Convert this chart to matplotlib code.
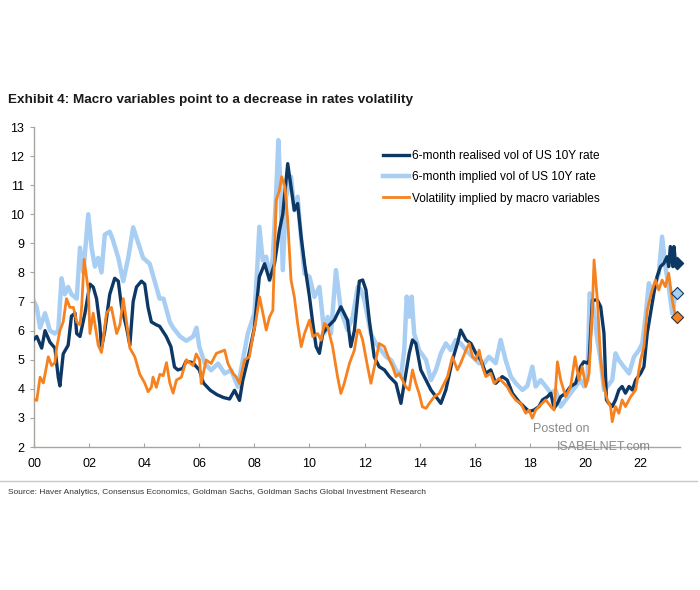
import matplotlib
matplotlib.use("Agg")
import matplotlib.pyplot as plt
from matplotlib.lines import Line2D

# 6-month realised vol of US 10Y rate
real_x = [2000.0, 2000.1, 2000.28, 2000.4, 2000.58, 2000.76, 2000.88, 2000.94, 2001.06, 2001.24,
          2001.36, 2001.49, 2001.55, 2001.67, 2001.85, 2002.03, 2002.15, 2002.27, 2002.39, 2002.45,
          2002.57, 2002.75, 2002.93, 2003.06, 2003.18, 2003.36, 2003.48, 2003.6, 2003.72, 2003.9,
          2004.02, 2004.14, 2004.26, 2004.44, 2004.56, 2004.8, 2004.97, 2005.1, 2005.22, 2005.4,
          2005.52, 2005.76, 2006.0, 2006.15, 2006.4, 2006.64, 2006.88, 2007.1, 2007.28, 2007.46,
          2007.58, 2007.76, 2008.0, 2008.18, 2008.37, 2008.55, 2008.73, 2008.91, 2009.03, 2009.21,
          2009.33, 2009.45, 2009.57, 2009.7, 2009.82, 2010.0, 2010.12, 2010.24, 2010.36, 2010.48,
          2010.66, 2010.9, 2011.14, 2011.38, 2011.5, 2011.63, 2011.81, 2011.93, 2012.05, 2012.17,
          2012.35, 2012.53, 2012.72, 2012.9, 2013.14, 2013.32, 2013.44, 2013.62, 2013.74, 2013.86,
          2014.04, 2014.23, 2014.41, 2014.59, 2014.77, 2014.95, 2015.19, 2015.37, 2015.49, 2015.68,
          2015.86, 2016.04, 2016.22, 2016.4, 2016.58, 2016.76, 2017.0, 2017.18, 2017.37, 2017.61,
          2017.79, 2017.97, 2018.15, 2018.33, 2018.46, 2018.64, 2018.76, 2018.88, 2019.0, 2019.12,
          2019.3, 2019.48, 2019.66, 2019.84, 2019.96, 2020.09, 2020.15, 2020.27, 2020.45, 2020.57,
          2020.69, 2020.78, 2020.87, 2020.99, 2021.11, 2021.23, 2021.35, 2021.47, 2021.6, 2021.72,
          2021.84, 2022.02, 2022.14, 2022.26, 2022.38, 2022.5, 2022.62, 2022.74, 2022.86, 2022.98,
          2023.04, 2023.1, 2023.19, 2023.23, 2023.29]
real_y = [5.7, 5.8, 5.4, 6.0, 5.6, 5.4, 4.4, 4.1, 5.2, 5.5,
          6.5, 6.6, 5.9, 5.8, 6.6, 7.6, 7.5, 7.1, 6.2, 5.4,
          6.0, 7.25, 7.8, 7.7, 6.8, 6.1, 5.5, 7.0, 7.5, 7.7,
          7.6, 6.8, 6.3, 6.2, 6.15, 5.8, 5.45, 4.75, 4.65, 4.7,
          4.95, 4.9, 4.65, 4.2, 3.95, 3.8, 3.7, 3.65, 3.95, 3.6,
          4.3, 5.0, 6.1, 7.85, 8.3, 7.74, 8.3, 9.45, 10.0, 11.74,
          10.94, 10.14, 10.37, 9.2, 8.3, 7.16, 6.25, 5.45, 5.22, 5.9,
          6.13, 6.36, 6.82, 6.36, 5.45, 6.0, 7.7, 7.74, 7.4, 6.36,
          5.1, 4.76, 4.65, 4.42, 4.19, 3.5, 4.19, 5.22, 5.68, 5.56,
          4.65, 4.3, 3.96, 3.73, 3.5, 3.96, 4.99, 5.56, 6.02, 5.68,
          5.56, 5.22, 4.99, 4.53, 4.65, 4.19, 4.42, 4.3, 3.84, 3.55,
          3.38, 3.22, 3.27, 3.39, 3.62, 3.73, 3.85, 3.33, 3.5, 3.73,
          3.85, 4.08, 4.19, 4.76, 4.93, 4.88, 4.99, 7.05, 7.05, 6.82,
          5.91, 3.62, 3.5, 3.39, 3.62, 3.96, 4.08, 3.85, 4.08, 3.96,
          4.3, 4.53, 4.76, 5.91, 6.59, 7.28, 7.86, 8.2, 8.31, 8.54,
          8.2, 8.89, 8.2, 8.89, 8.31]

# 6-month implied vol of US 10Y rate
impl_x = [2000.0, 2000.1, 2000.22, 2000.4, 2000.58, 2000.76, 2000.88, 2001.0, 2001.12, 2001.24,
          2001.36, 2001.55, 2001.67, 2001.79, 2001.97, 2002.09, 2002.21, 2002.33, 2002.45, 2002.57,
          2002.75, 2002.87, 2003.06, 2003.24, 2003.42, 2003.6, 2003.72, 2003.96, 2004.2, 2004.38,
          2004.56, 2004.7, 2004.93, 2005.05, 2005.3, 2005.53, 2005.78, 2005.9, 2006.0, 2006.2,
          2006.43, 2006.68, 2006.92, 2007.16, 2007.4, 2007.58, 2007.76, 2008.0, 2008.1, 2008.18,
          2008.3, 2008.43, 2008.55, 2008.67, 2008.79, 2008.87, 2008.95, 2009.03, 2009.15, 2009.33,
          2009.45, 2009.57, 2009.7, 2009.82, 2010.0, 2010.18, 2010.36, 2010.54, 2010.66, 2010.78,
          2010.96, 2011.14, 2011.38, 2011.57, 2011.75, 2011.87, 2011.99, 2012.11, 2012.23, 2012.41,
          2012.6, 2012.78, 2012.96, 2013.14, 2013.32, 2013.44, 2013.53, 2013.62, 2013.71, 2013.8,
          2013.98, 2014.23, 2014.41, 2014.59, 2014.77, 2014.95, 2015.13, 2015.31, 2015.49, 2015.68,
          2015.92, 2016.16, 2016.34, 2016.52, 2016.76, 2016.94, 2017.12, 2017.31, 2017.49, 2017.73,
          2017.91, 2018.09, 2018.21, 2018.39, 2018.58, 2018.76, 2018.94, 2019.12, 2019.3, 2019.48,
          2019.66, 2019.84, 2019.97, 2020.09, 2020.17, 2020.27, 2020.45, 2020.57, 2020.69, 2020.81,
          2020.99, 2021.11, 2021.23, 2021.41, 2021.6, 2021.78, 2021.96, 2022.08, 2022.2, 2022.32,
          2022.44, 2022.56, 2022.68, 2022.8, 2022.92, 2023.04, 2023.17, 2023.29]
impl_y = [7.0, 6.8, 6.1, 6.6, 6.0, 5.9, 6.0, 7.8, 7.25, 7.5,
          7.25, 7.1, 8.85, 8.0, 10.0, 8.85, 8.2, 8.5, 8.0, 9.3,
          9.4, 9.1, 8.5, 7.7, 8.5, 9.55, 9.2, 8.5, 8.3, 7.7,
          7.1, 7.1, 6.3, 6.1, 5.8, 5.65, 5.8, 6.1, 5.45, 4.87,
          4.64, 4.87, 4.53, 4.64, 4.07, 4.99, 5.9, 6.59, 8.08, 9.57,
          8.42, 8.54, 7.74, 8.54, 10.71, 12.55, 10.83, 8.08, 10.6, 11.29,
          10.14, 10.6, 9.11, 7.96, 7.85, 7.16, 7.5, 5.9, 6.47, 5.9,
          8.08, 6.7, 6.02, 6.47, 7.5, 7.4, 7.05, 6.48, 5.9, 5.56,
          5.33, 5.1, 4.99, 4.65, 4.42, 5.33, 7.17, 6.48, 7.17, 5.9,
          5.33, 4.99, 4.3, 4.65, 5.22, 5.56, 5.33, 5.68, 5.56, 5.33,
          5.1, 4.88, 4.88, 5.1, 4.88, 5.68, 4.99, 4.42, 4.19, 3.96,
          4.1, 4.76, 4.08, 4.3, 4.08, 3.85, 3.96, 3.39, 3.62, 3.85,
          4.08, 4.3, 4.08, 4.3, 7.28, 7.05, 5.68, 4.99, 3.96, 4.08,
          4.3, 5.22, 4.99, 4.76, 4.53, 5.1, 5.33, 5.56, 6.48, 7.63,
          7.28, 7.63, 7.97, 9.23, 8.2, 7.51, 6.59, 7.28]

# Volatility implied by macro variables
macro_x = [2000.0, 2000.1, 2000.22, 2000.34, 2000.52, 2000.64, 2000.76, 2000.82, 2000.94, 2001.06,
           2001.18, 2001.3, 2001.43, 2001.55, 2001.67, 2001.73, 2001.82, 2001.97, 2002.03, 2002.15,
           2002.33, 2002.45, 2002.63, 2002.81, 2003.0, 2003.12, 2003.24, 2003.36, 2003.48, 2003.66,
           2003.84, 2004.02, 2004.14, 2004.26, 2004.32, 2004.44, 2004.57, 2004.69, 2004.81, 2004.93,
           2005.05, 2005.17, 2005.35, 2005.53, 2005.77, 2005.89, 2006.01, 2006.07, 2006.25, 2006.43,
           2006.62, 2006.92, 2007.04, 2007.22, 2007.34, 2007.46, 2007.64, 2007.82, 2007.94, 2008.06,
           2008.19, 2008.31, 2008.43, 2008.55, 2008.67, 2008.79, 2008.91, 2008.99, 2009.11, 2009.21,
           2009.33, 2009.45, 2009.57, 2009.7, 2009.82, 2010.0, 2010.12, 2010.3, 2010.42, 2010.54,
           2010.66, 2010.84, 2011.02, 2011.14, 2011.26, 2011.45, 2011.63, 2011.75, 2011.81, 2011.93,
           2012.11, 2012.23, 2012.41, 2012.53, 2012.72, 2012.9, 2013.02, 2013.14, 2013.26, 2013.38,
           2013.5, 2013.62, 2013.74, 2013.86, 2013.98, 2014.1, 2014.23, 2014.35, 2014.53, 2014.71,
           2014.89, 2015.01, 2015.19, 2015.37, 2015.49, 2015.68, 2015.8, 2015.92, 2016.04, 2016.16,
           2016.28, 2016.4, 2016.58, 2016.7, 2016.88, 2017.06, 2017.18, 2017.31, 2017.49, 2017.67,
           2017.85, 2017.97, 2018.09, 2018.21, 2018.39, 2018.58, 2018.76, 2018.88, 2019.0, 2019.12,
           2019.3, 2019.48, 2019.64, 2019.78, 2019.9, 2020.03, 2020.15, 2020.27, 2020.33, 2020.45,
           2020.57, 2020.69, 2020.81, 2020.93, 2020.99, 2021.11, 2021.23, 2021.35, 2021.47, 2021.66,
           2021.84, 2022.02, 2022.14, 2022.26, 2022.44, 2022.56, 2022.68, 2022.8, 2022.92, 2023.04,
           2023.17, 2023.29]
macro_y = [3.65, 3.6, 4.4, 4.2, 5.1, 4.8, 4.9, 5.4, 6.0, 6.3,
           7.1, 6.8, 6.8, 6.3, 6.2, 6.8, 8.45, 7.4, 5.9, 6.6,
           5.5, 5.25, 6.6, 6.8, 5.9, 6.2, 7.1, 6.3, 5.4, 5.1,
           4.5, 4.2, 3.9, 4.05, 4.4, 4.05, 4.5, 4.45, 4.9, 4.2,
           3.85, 4.3, 4.4, 5.0, 4.8, 5.2, 4.99, 4.18, 4.99, 4.87,
           5.22, 5.33, 4.87, 4.53, 4.41, 4.18, 4.99, 5.1, 5.79, 6.36,
           7.16, 6.59, 6.02, 6.47, 6.7, 10.48, 10.83, 11.29, 10.94, 9.8,
           7.74, 7.16, 6.25, 5.45, 5.9, 6.36, 5.79, 5.9, 5.67, 6.25,
           6.13, 5.45, 4.41, 3.84, 4.18, 4.87, 5.33, 6.02, 6.02, 5.68,
           4.76, 4.19, 4.99, 5.56, 5.45, 4.99, 4.76, 4.42, 4.53, 4.3,
           4.07, 3.96, 4.65, 4.19, 3.84, 3.38, 3.33, 3.5, 3.73, 3.84,
           4.19, 4.42, 5.1, 4.65, 4.88, 5.33, 5.56, 5.1, 4.99, 5.33,
           4.76, 4.42, 4.53, 4.19, 4.36, 4.19, 4.07, 3.84, 3.61, 3.5,
           3.16, 3.27, 2.99, 3.27, 3.45, 3.62, 3.39, 3.27, 4.93, 4.3,
           3.73, 4.08, 5.1, 4.3, 4.76, 4.08, 4.53, 6.82, 8.43, 7.05,
           4.99, 4.08, 3.62, 3.39, 2.87, 3.39, 3.16, 3.62, 3.39, 3.73,
           3.96, 4.99, 5.45, 6.71, 7.4, 7.74, 7.4, 7.74, 7.51, 7.97,
           7.05, 6.48]

# latest readings shown as diamonds
last_x = 2023.33
last_vals = [8.31, 7.28, 6.48]

labels = ["6-month realised vol of US 10Y rate",
          "6-month implied vol of US 10Y rate",
          "Volatility implied by macro variables"]
c_real = "#0d3866"
c_impl = "#a8cff3"
c_macro = "#f5821f"

plt.rcParams['font.family'] = ['Liberation Sans', 'DejaVu Sans']

fig = plt.figure(figsize=(7, 5.9), dpi=100)
ax = fig.add_axes([34 / 700, 1 - 447 / 590, 646 / 700, 320 / 590])

ax.plot(impl_x, impl_y, color=c_impl, lw=3.2, zorder=2, solid_joinstyle='round')
ax.plot(real_x, real_y, color=c_real, lw=2.4, zorder=3)
ax.plot(macro_x, macro_y, color=c_macro, lw=2.0, zorder=4)

ax.scatter([last_x], [last_vals[0]], marker='D', s=38, color=c_real, edgecolor=c_real,
           zorder=6, clip_on=False)
ax.scatter([last_x], [last_vals[1]], marker='D', s=38, color=c_impl, edgecolor=c_real, lw=0.8,
           zorder=6, clip_on=False)
ax.scatter([last_x], [last_vals[2]], marker='D', s=38, color=c_macro, edgecolor='#333333', lw=0.8,
           zorder=6, clip_on=False)

ax.set_xlim(2000, 2023.45)
ax.set_ylim(2, 13)
ax.set_yticks(range(2, 14))
ax.set_xticks(range(2000, 2023, 2))
ax.set_xticklabels([f"{y % 100:02d}" for y in range(2000, 2023, 2)])

for s in ['top', 'right']:
    ax.spines[s].set_visible(False)
for s in ['left', 'bottom']:
    ax.spines[s].set_color('#a8a4a0')
    ax.spines[s].set_linewidth(1.0)
ax.tick_params(axis='y', direction='out', length=3, color='#a8a4a0', labelsize=9, pad=4)
ax.tick_params(axis='x', direction='in', length=3, color='#a8a4a0', labelsize=9, pad=8)

handles = [Line2D([], [], color=c_real, lw=2.4),
           Line2D([], [], color=c_impl, lw=3.2),
           Line2D([], [], color=c_macro, lw=2.0)]
fig.legend(handles, labels, loc='upper left', bbox_to_anchor=(383 / 700, 1 - 150 / 590),
           frameon=False, fontsize=8.6, handlelength=2.2, handletextpad=0.25,
           labelspacing=0.78, borderpad=0, borderaxespad=0)

fig.text(8 / 700, 1 - 100 / 590, "Exhibit 4: Macro variables point to a decrease in rates volatility",
         fontsize=9.7, fontweight='bold', va='center', ha='left', color='#1a1a1a')
fig.text(8 / 700, 1 - 493 / 590,
         "Source: Haver Analytics, Consensus Economics, Goldman Sachs, Goldman Sachs Global Investment Research",
         fontsize=6, va='center', ha='left', color='#333333')
fig.add_artist(Line2D([0, 0.995], [1 - 481 / 590, 1 - 481 / 590], color='#c8c8c8', lw=1.0))

# watermark
fig.text(533 / 700, 1 - 429 / 590, "Posted on", fontsize=9, color='#8a8a8a', va='center', ha='left')
fig.text(557 / 700, 1 - 447 / 590, "ISABELNET.com", fontsize=9, color='#8a8a8a', va='center', ha='left')

fig.savefig("out.png", dpi=100, facecolor='white')
